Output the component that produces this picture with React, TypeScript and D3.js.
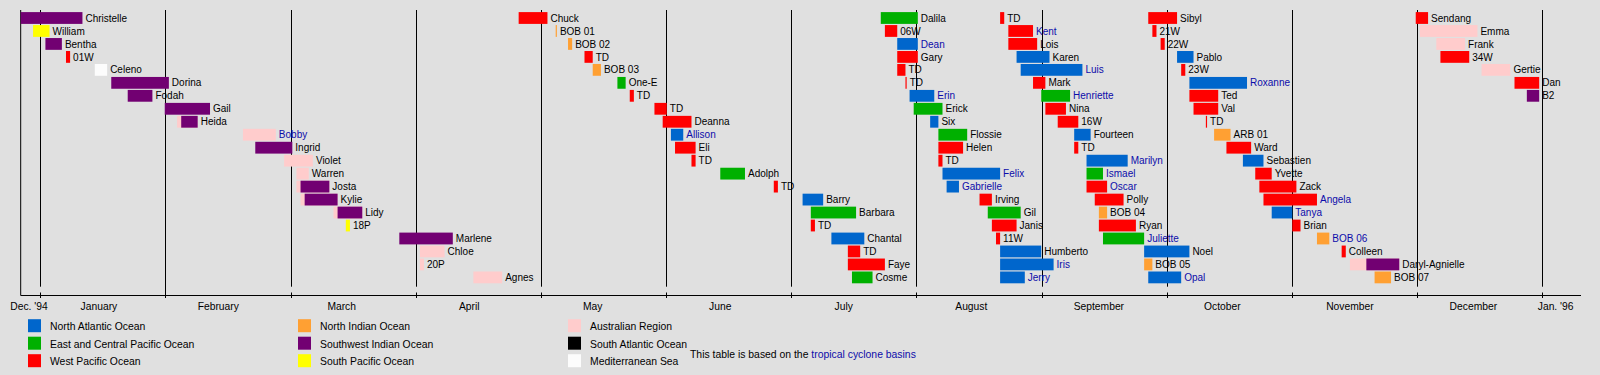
import React from "react";
import * as d3 from "d3";

// [name, start, end, row]
type Storm = [string, string, string, number];

const australianRegion: Storm[] = [
  ["", "1995-02-03", "1995-02-08", 8],
  ["Bobby", "1995-02-19", "1995-02-27", 9],
  ["Violet", "1995-03-01", "1995-03-08", 11],
  ["Warren", "1995-03-04", "1995-03-07", 12],
  ["", "1995-03-04", "1995-03-12", 13],
  ["", "1995-03-05", "1995-03-14", 14],
  ["", "1995-03-13", "1995-03-20", 15],
  ["Chloe", "1995-04-03", "1995-04-09", 18],
  ["20P", "1995-04-03", "1995-04-04", 19],
  ["Agnes", "1995-04-16", "1995-04-23", 20],
  ["", "1995-11-15", "1995-11-27", 19],
  ["Emma", "1995-12-02", "1995-12-16", 1],
  ["Frank", "1995-12-06", "1995-12-13", 2],
  ["Gertie", "1995-12-17", "1995-12-24", 4],
];

const northAtlantic: Storm[] = [
  ["Allison", "1995-06-03", "1995-06-06", 9],
  ["Barry", "1995-07-05", "1995-07-10", 14],
  ["Chantal", "1995-07-12", "1995-07-20", 17],
  ["Dean", "1995-07-28", "1995-08-02", 2],
  ["Erin", "1995-07-31", "1995-08-06", 6],
  ["Six", "1995-08-05", "1995-08-07", 8],
  ["Felix", "1995-08-08", "1995-08-22", 12],
  ["Gabrielle", "1995-08-09", "1995-08-12", 13],
  ["Humberto", "1995-08-22", "1995-09-01", 18],
  ["Iris", "1995-08-22", "1995-09-04", 19],
  ["Jerry", "1995-08-22", "1995-08-28", 20],
  ["Karen", "1995-08-26", "1995-09-03", 3],
  ["Luis", "1995-08-27", "1995-09-11", 4],
  ["Fourteen", "1995-09-09", "1995-09-13", 9],
  ["Marilyn", "1995-09-12", "1995-09-22", 11],
  ["Noel", "1995-09-26", "1995-10-07", 18],
  ["Opal", "1995-09-27", "1995-10-05", 20],
  ["Pablo", "1995-10-04", "1995-10-08", 3],
  ["Roxanne", "1995-10-07", "1995-10-21", 5],
  ["Sebastien", "1995-10-20", "1995-10-25", 11],
  ["Tanya", "1995-10-27", "1995-11-01", 15],
];

const eastCentralPacific: Storm[] = [
  ["One-E", "1995-05-21", "1995-05-23", 5],
  ["Adolph", "1995-06-15", "1995-06-21", 12],
  ["Barbara", "1995-07-07", "1995-07-18", 15],
  ["Cosme", "1995-07-17", "1995-07-22", 20],
  ["Dalila", "1995-07-24", "1995-08-02", 0],
  ["Erick", "1995-08-01", "1995-08-08", 7],
  ["Flossie", "1995-08-07", "1995-08-14", 9],
  ["Gil", "1995-08-19", "1995-08-27", 15],
  ["Henriette", "1995-09-01", "1995-09-08", 6],
  ["Ismael", "1995-09-12", "1995-09-16", 12],
  ["Juliette", "1995-09-16", "1995-09-26", 17],
];

const westPacific: Storm[] = [
  ["01W", "1995-01-07", "1995-01-08", 3],
  ["Chuck", "1995-04-27", "1995-05-04", 0],
  ["TD", "1995-05-13", "1995-05-15", 3],
  ["TD", "1995-05-24", "1995-05-25", 6],
  ["TD", "1995-05-30", "1995-06-02", 7],
  ["Deanna", "1995-06-01", "1995-06-08", 8],
  ["Eli", "1995-06-04", "1995-06-09", 10],
  ["TD", "1995-06-08", "1995-06-09", 11],
  ["TD", "1995-06-28", "1995-06-29", 13],
  ["TD", "1995-07-07", "1995-07-08", 16],
  ["TD", "1995-07-16", "1995-07-19", 18],
  ["Faye", "1995-07-16", "1995-07-25", 19],
  ["06W", "1995-07-25", "1995-07-28", 1],
  ["Gary", "1995-07-28", "1995-08-02", 3],
  ["TD", "1995-07-28", "1995-07-30", 4],
  ["TD", "1995-07-30", "1995-07-30", 5],
  ["Helen", "1995-08-07", "1995-08-13", 10],
  ["TD", "1995-08-07", "1995-08-08", 11],
  ["Irving", "1995-08-17", "1995-08-20", 14],
  ["Janis", "1995-08-20", "1995-08-26", 16],
  ["11W", "1995-08-21", "1995-08-22", 17],
  ["TD", "1995-08-22", "1995-08-23", 0],
  ["Kent", "1995-08-24", "1995-08-30", 1],
  ["Lois", "1995-08-24", "1995-08-31", 2],
  ["Mark", "1995-08-30", "1995-09-02", 5],
  ["Nina", "1995-09-02", "1995-09-07", 7],
  ["16W", "1995-09-05", "1995-09-10", 8],
  ["TD", "1995-09-09", "1995-09-10", 10],
  ["Oscar", "1995-09-12", "1995-09-17", 13],
  ["Polly", "1995-09-14", "1995-09-21", 14],
  ["Ryan", "1995-09-15", "1995-09-24", 16],
  ["Sibyl", "1995-09-27", "1995-10-04", 0],
  ["21W", "1995-09-28", "1995-09-29", 1],
  ["22W", "1995-09-30", "1995-10-01", 2],
  ["23W", "1995-10-05", "1995-10-06", 4],
  ["Ted", "1995-10-07", "1995-10-14", 6],
  ["Val", "1995-10-08", "1995-10-14", 7],
  ["TD", "1995-10-11", "1995-10-11", 8],
  ["Ward", "1995-10-16", "1995-10-22", 10],
  ["Yvette", "1995-10-23", "1995-10-27", 12],
  ["Zack", "1995-10-24", "1995-11-02", 13],
  ["Angela", "1995-10-25", "1995-11-07", 14],
  ["Brian", "1995-11-01", "1995-11-03", 16],
  ["Colleen", "1995-11-13", "1995-11-14", 18],
  ["Sendang", "1995-12-01", "1995-12-04", 0],
  ["34W", "1995-12-07", "1995-12-14", 3],
  ["Dan", "1995-12-25", "1995-12-31", 5],
];

const northIndian: Storm[] = [
  ["BOB 01", "1995-05-06", "1995-05-06", 1],
  ["BOB 02", "1995-05-09", "1995-05-10", 2],
  ["BOB 03", "1995-05-15", "1995-05-17", 4],
  ["BOB 04", "1995-09-15", "1995-09-17", 15],
  ["BOB 05", "1995-09-26", "1995-09-28", 19],
  ["ARB 01", "1995-10-13", "1995-10-17", 9],
  ["BOB 06", "1995-11-07", "1995-11-10", 17],
  ["BOB 07", "1995-11-21", "1995-11-25", 20],
];

const southwestIndian: Storm[] = [
  ["Christelle", "1994-12-27", "1995-01-11", 0],
  ["Bentha", "1995-01-02", "1995-01-06", 2],
  ["Dorina", "1995-01-18", "1995-02-01", 5],
  ["Fodah", "1995-01-22", "1995-01-28", 6],
  ["Gail", "1995-01-31", "1995-02-11", 7],
  ["Heida", "1995-02-04", "1995-02-08", 8],
  ["Ingrid", "1995-02-22", "1995-03-03", 10],
  ["Josta", "1995-03-05", "1995-03-12", 13],
  ["Kylie", "1995-03-06", "1995-03-14", 14],
  ["Lidy", "1995-03-14", "1995-03-20", 15],
  ["Marlene", "1995-03-29", "1995-04-11", 17],
  ["Daryl-Agnielle", "1995-11-19", "1995-11-27", 19],
  ["B2", "1995-12-28", "1995-12-31", 6],
];

const southPacific: Storm[] = [
  ["William", "1994-12-30", "1995-01-03", 1],
  ["18P", "1995-03-16", "1995-03-17", 16],
];

const southAtlantic: Storm[] = [];

const mediterranean: Storm[] = [
  ["Celeno", "1995-01-14", "1995-01-17", 4],
];

const linkedNames = [
  "Bobby", "Allison", "Dean", "Erin", "Felix", "Gabrielle", "Iris", "Jerry",
  "Kent", "Luis", "Henriette", "Marilyn", "Ismael", "Oscar", "Juliette",
  "Opal", "Roxanne", "Angela", "Tanya", "BOB 06",
];

const legendLabels = [
  "North Atlantic Ocean", "East and Central Pacific Ocean", "West Pacific Ocean",
  "North Indian Ocean", "Southwest Indian Ocean", "South Pacific Ocean",
  "Australian Region", "South Atlantic Ocean", "Mediterranean Sea",
];
const legendColors = [
  "#0066cc", "#00b000", "#ff0000",
  "#ffa033", "#720072", "#ffff00",
  "#ffcccc", "#000000", "#fcfcfc",
];

const monthLabels = [
  "Dec. '94", "January", "February", "March", "April", "May", "June",
  "July", "August", "September", "October", "November", "December", "Jan. '96",
];
const monthLabelDates = [
  "1994-12-29", "1995-01-15", "1995-02-13", "1995-03-15", "1995-04-15",
  "1995-05-15", "1995-06-15", "1995-07-15", "1995-08-15", "1995-09-15",
  "1995-10-15", "1995-11-15", "1995-12-15", "1996-01-04",
];

const W = 1600;
const H = 375;
const BG = "#e0e0e0";
const LINK = "#0c0caa";
const FONT = "'Liberation Sans', Arial, Helvetica, sans-serif";

export default function App() {
  const parse = d3.utcParse("%Y-%m-%d");
  const t0 = Date.UTC(1995, 0, 1);
  const t1 = Date.UTC(1996, 0, 1);
  const x = d3.scaleUtc().domain([t0, t1]).range([41.3, 1543.3]);
  const y = d3.scaleLinear().domain([0, 20]).range([18, 277.4]);
  const barH = 11.8;

  const frameLeft = 20.7;
  const frameRight = 1581;
  const axisY = 295.5;
  const gridTop = 10;
  const gridBottom = 286.7;

  const groups: [Storm[], string][] = [
    [australianRegion, legendColors[6]],
    [mediterranean, legendColors[8]],
    [southAtlantic, legendColors[7]],
    [southPacific, legendColors[5]],
    [southwestIndian, legendColors[4]],
    [northIndian, legendColors[3]],
    [westPacific, legendColors[2]],
    [eastCentralPacific, legendColors[1]],
    [northAtlantic, legendColors[0]],
  ];

  const bars = groups.flatMap(([list, color]) =>
    list.map(([name, s, e, row]) => {
      const x0 = x(parse(s) as Date);
      const x1 = x(parse(e) as Date);
      return { name, x0, x1, row, color };
    })
  );

  const gridX = d3
    .range(13)
    .map((k) => Math.round(x(new Date(t0 + (k * (t1 - t0)) / 12))) - 0.5);

  const linkSet = new Set(linkedNames);

  return (
    <svg
      width={W}
      height={H}
      style={{ position: "absolute", left: 0, top: 0, display: "block" }}
      fontFamily={FONT}
      fontSize={10}
    >
      <rect x={0} y={0} width={W} height={H} fill={BG} />
      {gridX.map((gx, i) => (
        <g key={"g" + i}>
          <line
            x1={gx}
            x2={gx}
            y1={gridTop}
            y2={i === 1 ? axisY + 2 : gridBottom}
            stroke="#000"
            strokeWidth={1}
          />
          <line x1={gx} x2={gx} y1={axisY - 3} y2={axisY + 2.5} stroke="#000" strokeWidth={1} />
        </g>
      ))}
      <line x1={frameLeft} x2={frameLeft} y1={gridTop} y2={axisY} stroke="#000" strokeWidth={1} />
      <line x1={frameLeft} x2={frameRight} y1={axisY} y2={axisY} stroke="#000" strokeWidth={1} />
      {bars.map((b, i) => (
        <rect
          key={"b" + i}
          x={b.x0}
          y={y(b.row) - barH / 2}
          width={Math.max(b.x1 - b.x0, 1.2)}
          height={barH}
          fill={b.color}
        />
      ))}
      {bars
        .filter((b) => b.name !== "")
        .map((b, i) => (
          <text
            key={"t" + i}
            x={Math.max(b.x1, b.x0 + 1.2) + 3}
            y={y(b.row) + 3.6}
            fill={linkSet.has(b.name) ? LINK : "#000"}
          >
            {b.name}
          </text>
        ))}
      {monthLabels.map((m, i) => (
        <text
          key={"m" + i}
          x={x(parse(monthLabelDates[i]) as Date)}
          y={309.6}
          textAnchor="middle"
          fill="#000"
          fontSize={10.3}
        >
          {m}
        </text>
      ))}
      {legendLabels.map((l, i) => {
        const col = Math.floor(i / 3);
        const r = i % 3;
        const lx = 28 + col * 270;
        const cy = 325.7 + r * 17.5;
        return (
          <g key={"l" + i}>
            <rect x={lx} y={cy - 6.5} width={13} height={13} fill={legendColors[i]} />
            <text x={lx + 22} y={cy + 4.6} fill="#000" fontSize={10.4}>
              {l}
            </text>
          </g>
        );
      })}
      <text x={690} y={357.6} fill="#000" fontSize={10.4}>
        This table is based on the <tspan fill={LINK}>tropical cyclone basins</tspan>
      </text>
    </svg>
  );
}
